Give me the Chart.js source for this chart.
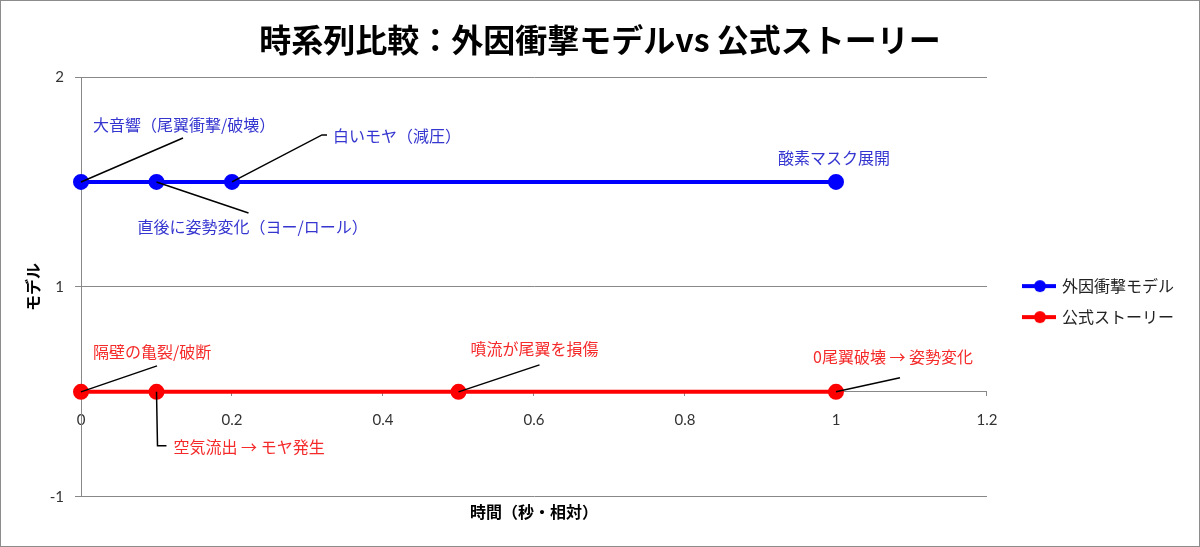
<!DOCTYPE html>
<html lang="ja">
<head>
<meta charset="utf-8">
<script src="https://cdn.jsdelivr.net/npm/chart.js@4.4.1/dist/chart.umd.min.js"></script>
<style>
  html, body { margin: 0; padding: 0; background: #fff; }
  #wrap { width: 1200px; height: 547px; }
</style>
</head>
<body>
<div id="wrap"><canvas id="timeline"></canvas></div>
<script>
const seriesNames = ["外因衝撃モデル", "公式ストーリー"];

const shockTimes = [0, 0.1, 0.2, 1.0];
const shockLevel = [1, 1, 1, 1];
const shockNotes = ["大音響（尾翼衝撃/破壊）", "直後に姿勢変化（ヨー/ロール）", "白いモヤ（減圧）", "酸素マスク展開"];

const officialTimes = [0, 0.1, 0.5, 1.0];
const officialLevel = [0, 0, 0, 0];
const officialNotes = ["隔壁の亀裂/破断", "空気流出 → モヤ発生", "噴流が尾翼を損傷", "0尾翼破壊 → 姿勢変化"];

const xTicks = [0, 0.2, 0.4, 0.6, 0.8, 1.0, 1.2];
const yTicks = [-0.5, 0.5, 1.5];

// where each callout sits, in px from its point (leader path + text anchor)
const calloutLayout = [
  [
    { path: [[102, -44]], text: [12, -57] },
    { path: [[92, 31]], text: [-19, 45] },
    { path: [[90, -47], [95, -47]], text: [101, -46] },
    { path: [], text: [-58, -24] },
  ],
  [
    { path: [[76, -26]], text: [12, -40] },
    { path: [[1, 54], [10, 54]], text: [17, 55] },
    { path: [[81, -27]], text: [12, -43] },
    { path: [[64, -14]], text: [-23, -35] },
  ],
];
const noteColors = ["#3535d0", "#f52a2a"];

const JP = "'Noto Sans CJK JP', sans-serif";
const NUM = "Lato, 'Noto Sans CJK JP', sans-serif";

function toPoints(xs, ys) {
  return xs.map((x, i) => ({ x: x, y: ys[i] }));
}

// little line-with-dot marker for the legend
function legendSwatch(color) {
  const c = document.createElement("canvas");
  c.width = 56;
  c.height = 14;
  const g = c.getContext("2d");
  g.strokeStyle = color;
  g.lineWidth = 4;
  g.beginPath();
  g.moveTo(22, 7);
  g.lineTo(56, 7);
  g.stroke();
  g.fillStyle = color;
  g.beginPath();
  g.arc(40, 7, 6, 0, Math.PI * 2);
  g.fill();
  return c;
}

const frame = {
  id: "frame",
  beforeDraw(chart) {
    const c = chart.ctx;
    c.save();
    c.fillStyle = "#fff";
    c.fillRect(0, 0, chart.width, chart.height);
    c.restore();
  },
  afterDraw(chart) {
    const c = chart.ctx;
    c.save();
    c.strokeStyle = "#8c8c8c";
    c.lineWidth = 1;
    c.strokeRect(0.5, 0.5, chart.width - 1, chart.height - 1);
    c.restore();
  },
};

const callouts = {
  id: "callouts",
  afterDatasetsDraw(chart) {
    const c = chart.ctx;
    const notes = [shockNotes, officialNotes];
    c.save();
    c.font = "16px " + JP;
    c.textBaseline = "middle";
    c.textAlign = "left";
    notes.forEach((list, d) => {
      const meta = chart.getDatasetMeta(d);
      list.forEach((txt, i) => {
        const pt = meta.data[i];
        const lay = calloutLayout[d][i];
        if (lay.path.length) {
          c.strokeStyle = "#000";
          c.lineWidth = 1.5;
          c.beginPath();
          c.moveTo(pt.x, pt.y);
          lay.path.forEach((p) => c.lineTo(pt.x + p[0], pt.y + p[1]));
          c.stroke();
        }
        c.fillStyle = noteColors[d];
        c.fillText(txt, pt.x + lay.text[0], pt.y + lay.text[1]);
      });
    });
    c.restore();
  },
};

new Chart(document.getElementById("timeline"), {
  type: "scatter",
  data: {
    datasets: [
      {
        label: seriesNames[0],
        data: toPoints(shockTimes, shockLevel),
        showLine: true,
        borderColor: "#0000ff",
        backgroundColor: "#0000ff",
        borderWidth: 4,
        pointRadius: 6,
        pointHoverRadius: 6,
        clip: false,
      },
      {
        label: seriesNames[1],
        data: toPoints(officialTimes, officialLevel),
        showLine: true,
        borderColor: "#ff0000",
        backgroundColor: "#ff0000",
        borderWidth: 4,
        pointRadius: 6,
        pointHoverRadius: 6,
        clip: false,
      },
    ],
  },
  options: {
    responsive: true,
    maintainAspectRatio: false,
    animation: false,
    layout: { padding: { left: 16, right: 16, top: 0, bottom: 0 } },
    plugins: {
      title: {
        display: true,
        text: "時系列比較：外因衝撃モデルvs 公式ストーリー",
        color: "#000",
        font: { family: JP, size: 32, weight: "bold", lineHeight: 1.2 },
        padding: { top: 21, bottom: 17.6 },
      },
      subtitle: {
        display: true,
        position: "bottom",
        fullSize: false,
        text: "時間（秒・相対）",
        color: "#000",
        font: { family: JP, size: 16, weight: "bold", lineHeight: 1.2 },
        padding: { top: 6, bottom: 25 },
      },
      legend: {
        position: "right",
        fullSize: false,
        title: { display: true, text: "", font: { size: 12 }, padding: { top: 7, bottom: 8 } },
        labels: {
          usePointStyle: true,
          pointStyleWidth: 52,
          padding: 15,
          color: "#222",
          font: { family: JP, size: 16 },
          generateLabels(chart) {
            return chart.data.datasets.map((ds, i) => ({
              text: ds.label,
              datasetIndex: i,
              pointStyle: legendSwatch(ds.borderColor),
              fillStyle: ds.borderColor,
              strokeStyle: ds.borderColor,
              lineWidth: 0,
              hidden: !chart.isDatasetVisible(i),
              fontColor: "#222",
            }));
          },
        },
      },
      tooltip: { enabled: true },
    },
    scales: {
      x: {
        type: "linear",
        position: { y: 0 },
        min: 0,
        max: 1.2,
        afterFit(scale) {
          scale.height = 0;
        },
        afterBuildTicks(scale) {
          scale.ticks = xTicks.map((v) => ({ value: v }));
        },
        grid: { drawOnChartArea: false, drawTicks: true, tickLength: 4, color: "#888" },
        border: { color: "#888", width: 1 },
        ticks: {
          color: "#333",
          padding: 15,
          maxRotation: 0,
          font: { family: NUM, size: 15 },
          callback: (v) => String(Math.round(v * 10) / 10),
        },
      },
      y: {
        type: "linear",
        min: -0.5,
        max: 1.5,
        afterFit(scale) {
          scale.width = 65;
        },
        afterBuildTicks(scale) {
          scale.ticks = yTicks.map((v) => ({ value: v }));
        },
        grid: { color: "#888", tickLength: 6, drawTicks: true },
        border: { color: "#888", width: 1 },
        ticks: {
          color: "#333",
          padding: 11,
          font: { family: NUM, size: 15 },
          // axis labels are rounded to whole numbers, half away from zero
          callback: (v) => String(Math.sign(v) * Math.round(Math.abs(v))),
        },
        title: {
          display: true,
          text: "モデル",
          color: "#000",
          font: { family: JP, size: 16, weight: "bold", lineHeight: 1.2 },
          padding: { top: 7, bottom: 0 },
        },
      },
    },
  },
  plugins: [frame, callouts],
});
</script>
</body>
</html>
